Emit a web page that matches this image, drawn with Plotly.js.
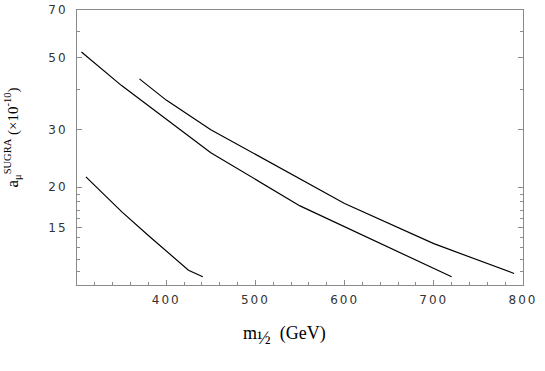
<!DOCTYPE html>
<html>
<head>
<meta charset="utf-8">
<script src="https://cdn.plot.ly/plotly-3.0.1.min.js"></script>
<style>
  body { margin: 0; background: #fff; }
  #chart { width: 545px; height: 371px; }
  .xtick text, .ytick text { letter-spacing: 2px; }
</style>
</head>
<body>
<div id="chart"></div>
<script>
// m_1/2 (GeV) vs a_mu^SUGRA (x10^-10)
const upperM = [370, 400, 450, 550, 600, 700, 790];
const upperA = [43, 37, 30, 21.1, 17.8, 13.4, 10.85];

const middleM = [305, 350, 450, 550, 720];
const middleA = [52, 41, 25.5, 17.5, 10.6];

const lowerM = [310, 350, 380, 425, 441];
const lowerA = [21.5, 16.8, 14.2, 11.1, 10.6];

const xTicks = [400, 500, 600, 700, 800];
const yTicks = [15, 20, 30, 50, 70];
const yMinor = [11, 12, 13, 14, 16, 17, 18, 19, 40, 60];

const xMinor = [];
for (let v = 320; v < 800; v += 20) {
  if (v % 100 !== 0) xMinor.push(v);
}

const frame = '#8a8a8a';
const lineStyle = { color: '#000', width: 1.2 };

function curve(x, y) {
  return { x: x, y: y, type: 'scatter', mode: 'lines', line: lineStyle, hoverinfo: 'skip' };
}

Plotly.newPlot('chart', [
  curve(upperM, upperA),
  curve(middleM, middleA),
  curve(lowerM, lowerA),
], {
  width: 545,
  height: 371,
  showlegend: false,
  margin: { l: 77, r: 22, t: 10, b: 86 },
  paper_bgcolor: '#ffffff',
  plot_bgcolor: '#ffffff',
  font: { family: 'DejaVu Sans, sans-serif', size: 12, color: '#333' },
  xaxis: {
    range: [300, 800],
    tickmode: 'array',
    tickvals: xTicks,
    ticks: 'inside',
    ticklen: 5,
    tickcolor: frame,
    showline: true,
    linecolor: frame,
    linewidth: 1,
    mirror: true,
    showgrid: false,
    zeroline: false,
    minor: { tickmode: 'array', tickvals: xMinor, ticks: 'inside', ticklen: 3, tickcolor: frame, showgrid: false },
    ticklabelstandoff: 4,
  },
  yaxis: {
    type: 'log',
    range: [1, Math.log10(70)],
    tickmode: 'array',
    tickvals: yTicks,
    ticktext: yTicks.map(String),
    ticks: 'inside',
    ticklen: 5,
    tickcolor: frame,
    showline: true,
    linecolor: frame,
    linewidth: 1,
    mirror: 'allticks',
    showgrid: false,
    zeroline: false,
    minor: { tickmode: 'array', tickvals: yMinor, ticks: 'inside', ticklen: 3, tickcolor: frame, showgrid: false },
    ticklabelstandoff: 6,
  },
  annotations: [
    {
      text: 'm<span style="font-size:26px"><sub>½</sub></span>  (GeV)',
      xref: 'paper', yref: 'paper',
      x: 0.466, y: 0,
      yshift: -36,
      xanchor: 'center', yanchor: 'top',
      showarrow: false,
      font: { family: 'Liberation Serif, serif', size: 18, color: '#000' },
    },
    {
      text: '<span style="font-size:17px">a</span><sub>μ</sub><sup>SUGRA</sup> (×10<sup>-10</sup>)',
      xref: 'paper', yref: 'paper',
      x: 0, y: 0.5,
      xshift: -65, yshift: 10,
      xanchor: 'center', yanchor: 'middle',
      textangle: -90,
      showarrow: false,
      font: { family: 'Liberation Serif, serif', size: 15, color: '#000' },
    },
  ],
}, { displayModeBar: false, staticPlot: true });
</script>
</body>
</html>
